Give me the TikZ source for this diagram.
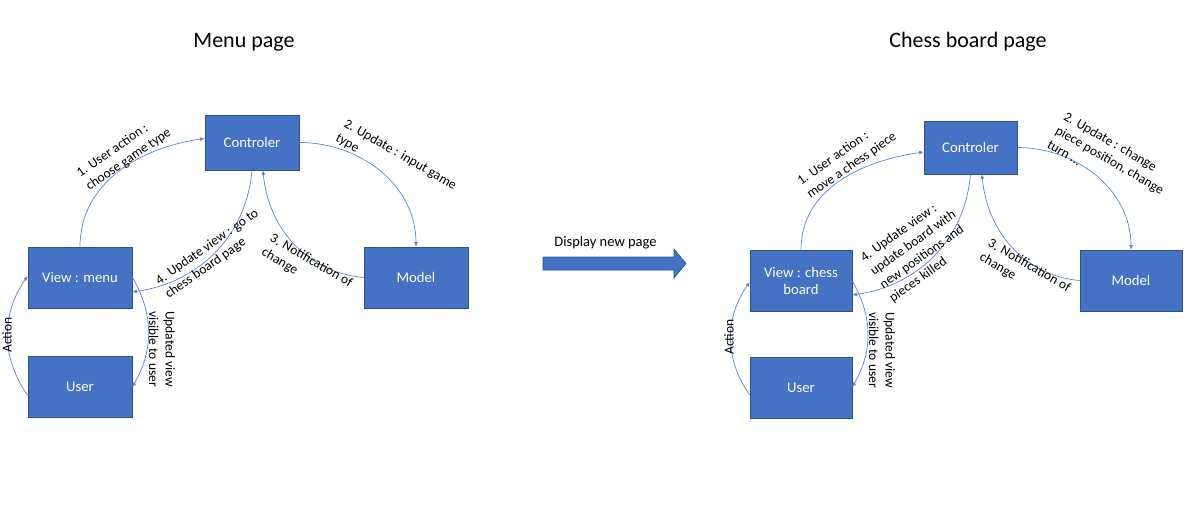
\documentclass[tikz,border=0pt]{standalone}
\usepackage{fontspec}
\setmainfont{Carlito}
\usetikzlibrary{arrows.meta}
\definecolor{boxblue}{HTML}{4472C4}
\definecolor{boxedge}{HTML}{2F528F}
\definecolor{linkblue}{HTML}{5B86D0}
\tikzset{
  box/.style={draw=boxedge, line width=0.6pt, fill=boxblue, text=white, minimum width=#1, minimum height=61pt, inner sep=0pt, align=center, font=\fontsize{14.7}{17}\selectfont},
  box/.default=104pt,
  link/.style={draw=linkblue, line width=0.7pt, -{Latex[length=4.5pt,width=4pt]}},
  lbl/.style={font=\fontsize{13.5}{16.5}\selectfont, align=left, text=black, inner sep=0pt},
  title/.style={font=\fontsize{22}{26}\selectfont, text=black},
}
\begin{document}
\begin{tikzpicture}[x=1pt,y=-1pt]
\useasboundingbox (0,0) rectangle (1187,507);
% titles
\node[title] (t1) at (244,42) {Menu page};
\node[title] (t2) at (968,42) {Chess board page};

% ---------- left diagram ----------
\node[box=94pt, minimum height=55pt] (lc) at (252,142.5) {Controler};
\node[box] (lv) at (80,277.5) {View : menu};
\node[box] (lu) at (80,386.5) {User};
\node[box] (lm) at (416,277.5) {Model};

\draw[link] (lv.north) to[out=90,in=188] ([yshift=4pt]lc.west);
\draw[link] (lc.east) to[out=0,in=90] (lm.north);
\draw[link] (lm.west) to[out=175,in=-85] ([xshift=11pt]lc.south);
\draw[link] (lc.south) to[out=-95,in=8] ([yshift=-14.5pt]lv.east);
\draw[link] ([yshift=-9pt]lu.west) to[out=125,in=-125] ([yshift=1.5pt]lv.west);
\draw[link] ([yshift=0.5pt]lv.east) to[out=-60,in=60] ([yshift=-0.5pt]lu.east);

\node[lbl, rotate=34.5] (l1) at (124,153) {1. User action :\\choose game type};
\node[lbl, rotate=-30] (l2) at (396,162) {2. Update : input game\\type};
\node[lbl, rotate=-30] (l3) at (307,268) {3. Notification of\\change};
\node[lbl, rotate=35] (l4) at (212,254) {4. Update view : go to\\chess board page};
\node[lbl, rotate=90] (l5) at (7,335) {Action};
\node[lbl, rotate=-90] (l6) at (162,349) {Updated view\\visible to user};

% ---------- transition arrow ----------
\node[font=\fontsize{14.5}{17}\selectfont] (dp) at (605.5,243) {Display new page};
\coordinate (ba) at (543,263.5);
\draw[draw=boxedge, fill=boxblue, line width=0.6pt]
  (ba) ++(0,-6.5) -- ++(131,0) -- ++(0,-8) -- ++(12,14.5) -- ++(-12,14.5) -- ++(0,-8) -- ++(-131,0) -- cycle;

% ---------- right diagram ----------
\node[box=93pt, minimum height=53pt] (rc) at (970.5,147.5) {Controler};
\node[box=102pt] (rv) at (801,280.5) {View : chess\\board};
\node[box=102pt] (ru) at (801,387.5) {User};
\node[box=102pt] (rm) at (1131,280.5) {Model};

\draw[link] (rv.north) to[out=90,in=188] ([yshift=-4.5pt]rc.west);
\draw[link] (rc.east) to[out=0,in=90] (rm.north);
\draw[link] (rm.west) to[out=175,in=-85] ([xshift=11.5pt]rc.south);
\draw[link] (rc.south) to[out=-95,in=8] ([yshift=-14.5pt]rv.east);
\draw[link] ([yshift=-7.5pt]ru.west) to[out=125,in=-125] ([yshift=-1.5pt]rv.west);
\draw[link] ([yshift=-0.5pt]rv.east) to[out=-60,in=60] ([yshift=0.5pt]ru.east);

\node[lbl, rotate=35] (r1) at (847,159) {1. User action :\\move a chess piece};
\node[lbl, rotate=-30] (r2) at (1110,160) {2. Update : change\\piece position, change\\turn ...};
\node[lbl, rotate=-30] (r3) at (1025,273) {3. Notification of\\change};
\node[lbl, rotate=35.5] (r4) at (918,250) {4. Update view :\\update board with\\new positions and\\pieces killed};
\node[lbl, rotate=90] (r5) at (729,337) {Action};
\node[lbl, rotate=-90] (r6) at (882,350) {Updated view\\visible to user};
\end{tikzpicture}
\end{document}
